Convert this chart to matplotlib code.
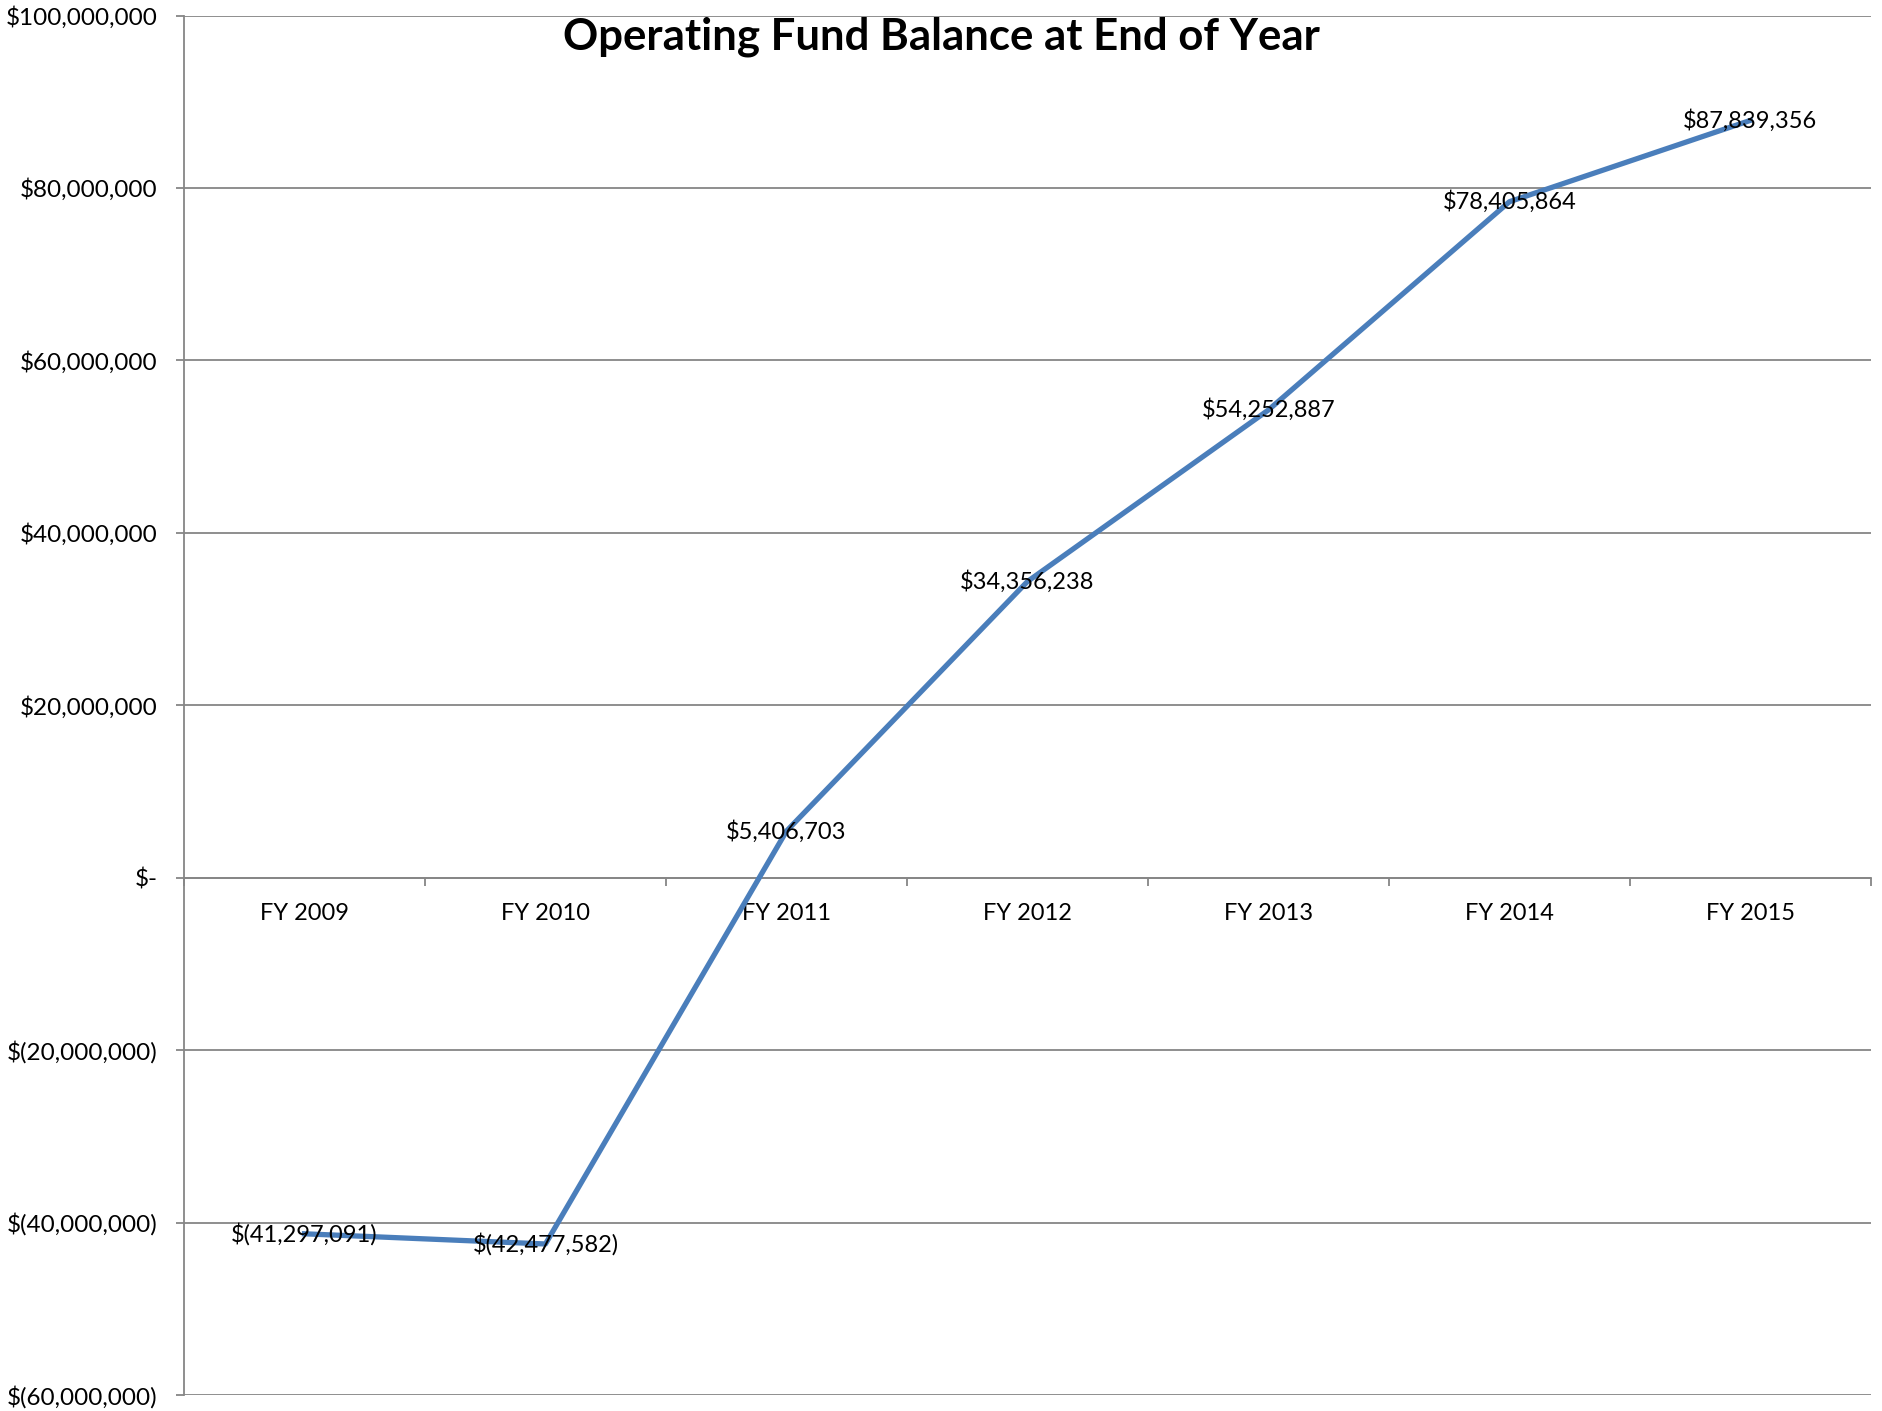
import matplotlib
matplotlib.use("Agg")
import matplotlib.pyplot as plt
from matplotlib.ticker import FuncFormatter, FixedLocator
import numpy as np

plt.rcParams['font.family'] = ['Lato', 'DejaVu Sans']

# data
years = ['FY 2009', 'FY 2010', 'FY 2011', 'FY 2012', 'FY 2013', 'FY 2014', 'FY 2015']
balance = [-41297091, -42477582, 5406703, 34356238, 54252887, 78405864, 87839356]

line_col = '#4A7EBB'
grid_col = '#868686'


def money(v, pos=None):
    if v == 0:
        return '$-'
    if v < 0:
        return '$({:,.0f})'.format(-v)
    return '${:,.0f}'.format(v)


fig = plt.figure(figsize=(18.83, 14.11), dpi=100)
ax = fig.add_axes([0.0977, 0.0113, 0.8959, 0.9777])

x = np.arange(len(years))
ax.plot(x, balance, color=line_col, lw=3.8, solid_joinstyle='round', zorder=3)

for xi, v in zip(x, balance):
    ax.text(xi, v, money(v), ha='center', va='center', fontsize=17, zorder=4)

ax.set_xlim(-0.5, len(years) - 0.5)
ax.set_ylim(-60000000, 100000000)
ax.set_yticks(np.arange(-60000000, 100000001, 20000000))
ax.yaxis.set_major_formatter(FuncFormatter(money))
ax.grid(axis='y', color=grid_col, lw=1.3)
ax.set_axisbelow(True)

# category labels at centres, tick marks at boundaries
ax.set_xticks(x)
ax.set_xticklabels(years)
ax.xaxis.set_minor_locator(FixedLocator(np.arange(-0.5, len(years), 1.0)))
ax.tick_params(axis='x', which='major', length=0, pad=18, labelsize=17)
ax.tick_params(axis='x', which='minor', length=6, color=grid_col, width=1.3, direction='out')
ax.tick_params(axis='y', length=6, color=grid_col, width=1.3, pad=13, labelsize=17.5)

for s in ['top', 'right']:
    ax.spines[s].set_visible(False)
ax.spines['bottom'].set_position(('data', 0))
ax.spines['bottom'].set_color(grid_col)
ax.spines['bottom'].set_linewidth(1.3)
ax.spines['left'].set_color(grid_col)
ax.spines['left'].set_linewidth(1.3)

ax.text(0.449, 0.9845, 'Operating Fund Balance at End of Year', transform=ax.transAxes,
        fontsize=31.5, fontweight='bold', ha='center', va='center')

fig.savefig('out.png', dpi=100)
